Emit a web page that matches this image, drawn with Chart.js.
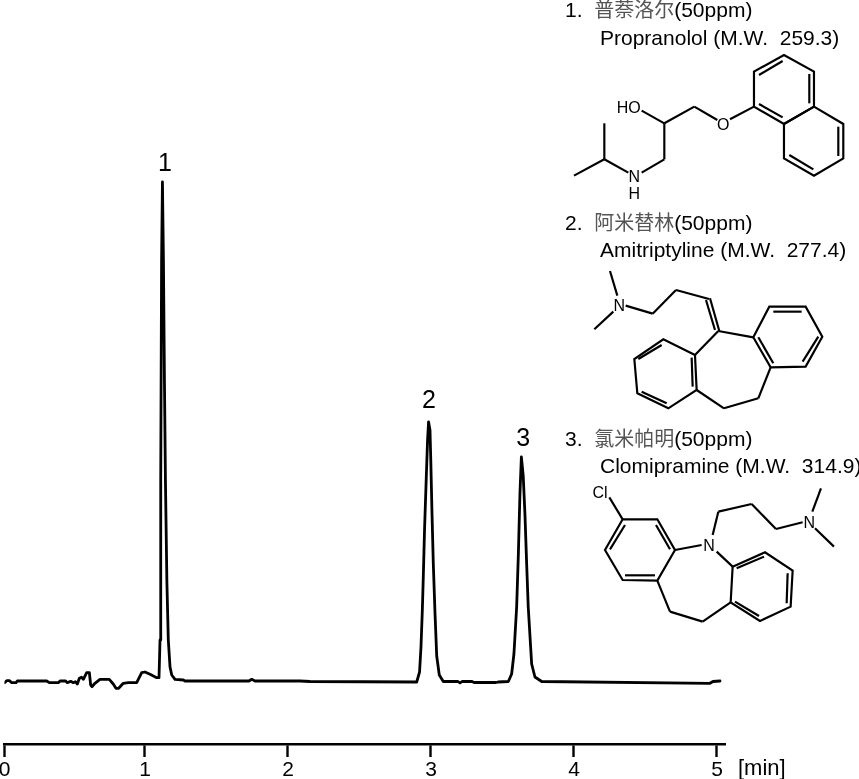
<!DOCTYPE html>
<html>
<head>
<meta charset="utf-8">
<title>Chromatogram</title>
<script src="https://cdn.jsdelivr.net/npm/chart.js@4/dist/chart.umd.min.js"></script>
<style>
body { margin: 0; background: #fff; }
#wrap { position: relative; width: 859px; height: 779px; overflow: hidden; }
#myChart { position: absolute; left: 0; top: 0; }
#panel { position: absolute; left: 0; top: 0; }
#panel text { font-family: "Liberation Sans", Arial, sans-serif; font-size: 21px; fill: #000; white-space: pre; }
#panel .cjk { font-family: "Noto Sans CJK SC"; font-size: 20px; fill: #555; }
#panel .mol line, #panel .mol polygon { stroke: #000; stroke-width: 6.5; fill: none; stroke-linejoin: miter; }
#panel .mol text { font-size: 48px; text-anchor: middle; }
</style>
</head>
<body>
<div id="wrap">
<canvas id="myChart" width="859" height="779"></canvas>
<svg id="panel" width="859" height="779" xmlns="http://www.w3.org/2000/svg">
  <text x="565" y="17">1.  <tspan class="cjk">普萘洛尔</tspan>(50ppm)</text>
  <text x="600" y="45">Propranolol (M.W.  259.3)</text>
  <text x="565" y="230">2.  <tspan class="cjk">阿米替林</tspan>(50ppm)</text>
  <text x="600" y="257">Amitriptyline (M.W.  277.4)</text>
  <text x="565" y="446">3.  <tspan class="cjk">氯米帕明</tspan>(50ppm)</text>
  <text x="600" y="473">Clomipramine (M.W.  314.9)</text>
  <text x="738" y="775" style="font-size:22px">[min]</text>

  <!-- Propranolol -->
  <g class="mol" transform="translate(560,0) scale(0.3333)">
    <line x1="133" y1="370" x2="133" y2="478"/><line x1="42" y1="527" x2="133" y2="478"/>
    <line x1="133" y1="478" x2="205" y2="518"/><line x1="245" y1="518" x2="313" y2="478"/>
    <line x1="313" y1="478" x2="313" y2="370"/><line x1="313" y1="370" x2="245" y2="332"/>
    <line x1="313" y1="370" x2="403" y2="320"/><line x1="403" y1="320" x2="472" y2="360"/>
    <line x1="510" y1="358" x2="582" y2="320"/>
    <polygon points="582,320 582,215 672,165 762,215 762,320 672,372"/>
    <polygon points="762,320 850,372 850,475 762,527 672,475 672,372"/>
    <line x1="597" y1="225" x2="668" y2="183"/><line x1="748" y1="222" x2="748" y2="310"/>
    <line x1="597" y1="312" x2="668" y2="352"/><line x1="835" y1="380" x2="835" y2="468"/>
    <line x1="688" y1="465" x2="760" y2="508"/>
    <text x="206" y="339">HO</text><text x="490" y="390">O</text>
    <text x="223" y="547">N</text><text x="223" y="598">H</text>
  </g>

  <!-- Amitriptyline -->
  <g class="mol" transform="translate(560,205) scale(0.3333)">
    <line x1="150" y1="198" x2="172" y2="272"/><line x1="103" y1="373" x2="160" y2="320"/>
    <line x1="197" y1="302" x2="278" y2="326"/><line x1="278" y1="326" x2="348" y2="255"/>
    <line x1="348" y1="255" x2="447" y2="282"/><line x1="450" y1="280" x2="478" y2="378"/>
    <line x1="438" y1="285" x2="465" y2="375"/><line x1="475" y1="378" x2="580" y2="397"/>
    <line x1="475" y1="378" x2="405" y2="450"/>
    <polygon points="580,397 628,305 737,305 787,395 737,485 632,487"/>
    <line x1="640" y1="320" x2="725" y2="320"/><line x1="775" y1="395" x2="728" y2="470"/>
    <line x1="595" y1="397" x2="640" y2="475"/>
    <polygon points="405,450 310,403 223,462 232,565 325,610 410,555"/>
    <line x1="235" y1="462" x2="305" y2="420"/><line x1="245" y1="560" x2="320" y2="595"/>
    <line x1="395" y1="458" x2="398" y2="545"/>
    <line x1="410" y1="555" x2="492" y2="610"/><line x1="492" y1="610" x2="595" y2="580"/>
    <line x1="595" y1="580" x2="632" y2="487"/>
    <text x="178" y="317">N</text>
  </g>

  <!-- Clomipramine -->
  <g class="mol" transform="translate(560,420) scale(0.3333)">
    <line x1="148" y1="232" x2="188" y2="298"/>
    <polygon points="188,298 292,298 345,390 292,482 188,480 135,390"/>
    <line x1="150" y1="388" x2="195" y2="315"/><line x1="288" y1="315" x2="330" y2="388"/>
    <line x1="195" y1="466" x2="285" y2="466"/>
    <line x1="345" y1="390" x2="425" y2="375"/><line x1="458" y1="345" x2="475" y2="275"/>
    <line x1="475" y1="275" x2="575" y2="252"/><line x1="575" y1="252" x2="648" y2="327"/>
    <line x1="648" y1="327" x2="728" y2="307"/><line x1="757" y1="275" x2="783" y2="205"/>
    <line x1="765" y1="325" x2="822" y2="380"/><line x1="470" y1="395" x2="518" y2="440"/>
    <polygon points="518,440 615,397 698,452 692,560 600,603 512,547"/>
    <line x1="530" y1="445" x2="612" y2="410"/><line x1="683" y1="460" x2="680" y2="550"/>
    <line x1="525" y1="545" x2="597" y2="588"/>
    <line x1="292" y1="482" x2="330" y2="575"/><line x1="330" y1="575" x2="428" y2="605"/>
    <line x1="428" y1="605" x2="512" y2="547"/>
    <text x="120" y="233">Cl</text><text x="447" y="392">N</text><text x="748" y="324">N</text>
  </g>
</svg>
</div>

<script>
// retention time in minutes
var tiempos = [0.018,0.033,0.051,0.068,0.098,0.107,0.313,0.331,0.394,0.406,0.445,0.457,0.480,0.499,0.513,0.527,0.541,0.557,0.569,0.592,0.611,0.620,0.629,0.650,0.685,0.750,0.778,0.797,0.816,0.848,0.883,0.942,0.977,1.000,1.035,1.082,1.098,1.105,1.110,1.116,1.122,1.129,1.136,1.143,1.153,1.163,1.175,1.187,1.210,1.268,1.280,1.727,1.746,1.769,2.084,2.154,2.900,2.920,2.930,2.939,2.946,2.955,2.965,2.976,2.983,2.993,2.998,3.007,3.016,3.028,3.040,3.058,3.086,3.189,3.203,3.217,3.287,3.301,3.315,3.455,3.469,3.541,3.564,3.580,3.599,3.611,3.622,3.632,3.636,3.645,3.657,3.669,3.680,3.704,3.727,3.774,4.951,4.972,5.021]
// detector signal, arbitrary units
var senal = [-1.7,0.3,0.3,-1.7,-1.7,0,0,-1.7,-1.7,0,0,-1.7,-0.3,-1.7,-0.7,-3,2.7,3.7,1.7,8.3,8.3,-4,-5.7,-2.3,1.7,1.7,-3,-7.3,-7.3,-2.3,-1.7,-1.7,8.3,9,6.7,3.3,3.3,41,200,420,499,420,300,200,100,41,14,6,1.7,1,0,0,1.7,0,0,-0.5,-1,9,34,69,103,152,195,241,259,251,224,168,118,68,25,6,-0.5,-0.5,-2,-0.5,-0.5,-1.5,-1.5,-1.5,-1,-0.5,7,27,74,127,187,224,224,205,167,117,74,17,4,-0.5,-2.3,-0.5,0]

var ticks_valores = [0.0175,1,2,3,4,5]
var ticks_etiquetas = ['0','1','2','3','4','5']

var picos_tiempo = [1.140,2.985,3.645]
var picos_altura = [510,273,235]
var picos_etiqueta = ['1','2','3']

// numbers above each peak
var etiquetasPicos = {
    id: 'etiquetasPicos',
    afterDatasetsDraw(chart) {
        let c = chart.ctx
        c.save()
        c.fillStyle = '#000'
        c.font = '25px "Liberation Sans", Arial, sans-serif'
        c.textAlign = 'center'
        c.textBaseline = 'alphabetic'
        picos_etiqueta.forEach((txt, i) => {
            c.fillText(txt, chart.scales.x.getPixelForValue(picos_tiempo[i]), chart.scales.y.getPixelForValue(picos_altura[i]))
        })
        c.restore()
    }
}

var ctx = document.getElementById('myChart')
var myLineChart = new Chart(ctx, {
    type: 'line',
    data: {
        datasets: [{
            label: 'signal',
            data: tiempos.map((t, i) => ({ x: t, y: senal[i] })),
            borderColor: '#000',
            borderWidth: 2.8,
            borderJoinStyle: 'round',
            borderCapStyle: 'round',
            pointRadius: 0,
            tension: 0,
            fill: false
        }]
    },
    options: {
        responsive: false,
        animation: false,
        layout: { padding: { left: 4.5, right: 134, top: 0, bottom: 0 } },
        plugins: { legend: { display: false }, tooltip: { enabled: false } },
        scales: {
            x: {
                type: 'linear',
                min: 0.0175,
                max: 5.056,
                afterBuildTicks: (scale) => { scale.ticks = ticks_valores.map(v => ({ value: v })) },
                afterFit: (scale) => {
                    scale.height = 35
                    scale.paddingLeft = 0
                    scale.paddingRight = 0
                },
                border: { color: '#000', width: 2.4 },
                grid: { drawOnChartArea: false, tickLength: 13, tickColor: '#000', tickWidth: 2.4 },
                ticks: {
                    color: '#000',
                    padding: 1,
                    autoSkip: false,
                    maxRotation: 0,
                    font: { family: '"Liberation Sans", Arial, sans-serif', size: 21 },
                    callback: (value, index) => ticks_etiquetas[index]
                }
            },
            y: { display: false, min: -63, max: 681 }
        }
    },
    plugins: [etiquetasPicos]
});
</script>
</body>
</html>
